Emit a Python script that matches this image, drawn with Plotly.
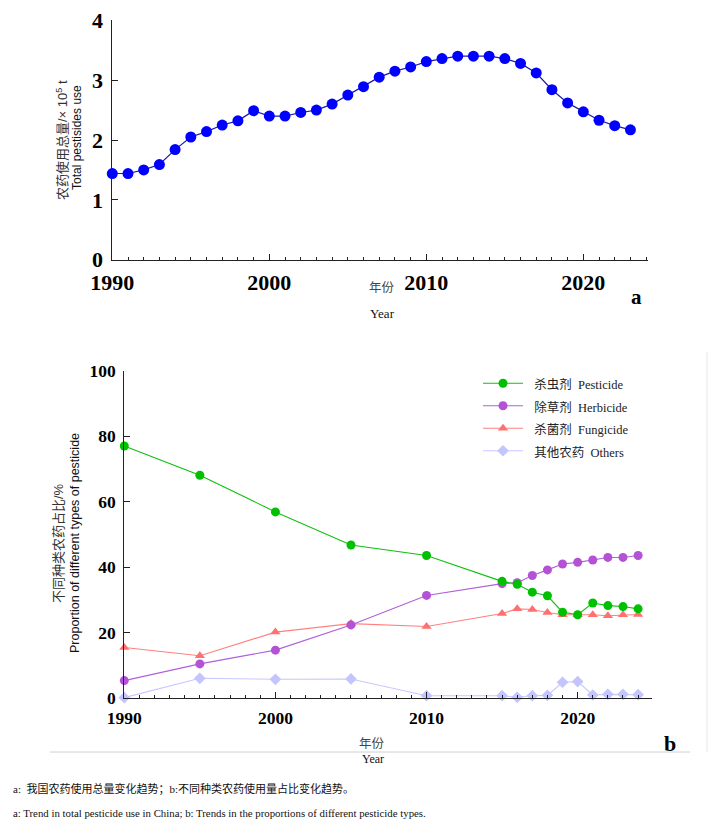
import plotly.graph_objects as go

# ---- data: panel a ----
years_a = list(range(1990, 2024))
total_use = [1.44, 1.44, 1.50, 1.59, 1.84, 2.05, 2.14, 2.25, 2.32, 2.49,
             2.40, 2.40, 2.46, 2.50, 2.60, 2.75, 2.89, 3.05, 3.15, 3.22,
             3.31, 3.36, 3.40, 3.40, 3.40, 3.36, 3.28, 3.12, 2.84, 2.62,
             2.47, 2.33, 2.24, 2.17]

# ---- data: panel b ----
years_b = [1990, 1995, 2000, 2005, 2010, 2015, 2016, 2017, 2018, 2019,
           2020, 2021, 2022, 2023, 2024]
pesticide = [77.0, 68.1, 56.9, 46.8, 43.6, 35.7, 34.8, 32.4, 31.3, 26.3,
             25.5, 29.1, 28.3, 28.0, 27.3]
herbicide = [5.4, 10.5, 14.7, 22.4, 31.4, 35.0, 35.3, 37.5, 39.2, 41.0,
             41.5, 42.2, 43.0, 43.0, 43.6]
fungicide = [15.5, 13.0, 20.2, 22.8, 21.9, 25.9, 27.3, 27.1, 26.2, 25.5,
             25.5, 25.5, 25.2, 25.5, 25.6]
others = [0.2, 6.1, 5.8, 5.9, 0.8, 0.8, 0.3, 0.8, 0.9, 4.9,
          5.1, 1.0, 1.2, 1.2, 1.1]

series_names = ["杀虫剂  Pesticide", "除草剂  Herbicide", "杀菌剂  Fungicide", "其他农药  Others"]

W, H = 726, 826
SERIF = "Liberation Serif, Times New Roman, serif"
CJK = "Liberation Serif, Noto Sans CJK SC, serif"
SANS = "Liberation Sans, Arial, Noto Sans CJK SC, sans-serif"

fig = go.Figure()

fig.add_trace(go.Scatter(
    x=years_a, y=total_use, mode="lines+markers", xaxis="x", yaxis="y",
    line=dict(color="#1c1ca8", width=1.2),
    marker=dict(color="#0000ff", size=11, symbol="circle"),
    showlegend=False, cliponaxis=False))

def add_b(y, name, mcol, lcol, sym, size, rank):
    fig.add_trace(go.Scatter(
        x=years_b, y=y, mode="lines+markers", xaxis="x2", yaxis="y2",
        name='<span style="font-size:12.5px">\u00a0\u00a0' + name + '</span>',
        line=dict(color=lcol, width=1.1),
        marker=dict(color=mcol, size=size, symbol=sym),
        legendrank=rank, cliponaxis=False))

add_b(others, series_names[3], "#c4c4ff", "#c8c8ff", "diamond", 9, 4)
add_b(fungicide, series_names[2], "#ff7070", "#ff8080", "triangle-up", 9, 3)
add_b(herbicide, series_names[1], "#b452d6", "#b060d8", "circle", 9, 2)
add_b(pesticide, series_names[0], "#00c000", "#10c010", "circle", 9, 1)

def px_x(p):
    return p / W

def px_y(p):
    return 1 - p / H

tickfont_big = dict(family=SERIF, size=22, color="black", weight="bold")
tickfont_small = dict(family=SERIF, size=17.5, color="black", weight="bold")

common = dict(showgrid=False, zeroline=False, showline=True, linecolor="#222",
              linewidth=1, ticks="inside", ticklen=6, tickcolor="#222", automargin=False)

fig.update_layout(
    width=W, height=H, margin=dict(l=0, r=0, t=0, b=0, autoexpand=False),
    paper_bgcolor="white", plot_bgcolor="rgba(0,0,0,0)",
    xaxis=dict(domain=[px_x(112.3), px_x(647.7)], range=[1990, 2024.1],
               anchor="y", dtick=10, tick0=1990,
               minor=dict(dtick=1, ticks="inside", ticklen=3, tickcolor="#222"),
               tickfont=tickfont_big, ticklabelstandoff=3, **common),
    yaxis=dict(domain=[px_y(259.7), px_y(20.3)], range=[0, 4],
               anchor="x", dtick=1,
               tickfont=tickfont_big, ticklabelstandoff=4, **common),
    xaxis2=dict(domain=[px_x(124.3), px_x(651.7)], range=[1990, 2024.9],
                anchor="y2", dtick=10, tick0=1990,
                minor=dict(dtick=1, ticks="inside", ticklen=3, tickcolor="#222"),
                tickfont=tickfont_small, ticklabelstandoff=4, **common),
    yaxis2=dict(domain=[px_y(698.3), px_y(370.7)], range=[0, 100],
                anchor="x2", dtick=20,
                tickfont=tickfont_small, ticklabelstandoff=4, **common),
    legend=dict(x=px_x(478), y=px_y(367), xanchor="left", yanchor="top",
                bgcolor="rgba(0,0,0,0)", font=dict(family=CJK, size=15, color="#222"),
                itemwidth=40, tracegroupgap=0),
)

ann = []
def text(x, y, s, size, family=SERIF, bold=False, angle=0, color="#222", xanchor="center"):
    ann.append(dict(x=px_x(x), y=px_y(y), xref="paper", yref="paper", text=s,
                    showarrow=False, textangle=angle, xanchor=xanchor, yanchor="middle",
                    font=dict(family=family, size=size, color=color,
                              weight="bold" if bold else "normal")))

# panel a labels
text(62, 140, "农药使用总量/× 10<sup>5</sup> t", 13, family=SANS, angle=-90, color="#333")
text(77, 138, "Total pestisides use", 12, family=SANS, angle=-90, color="#111")
text(382, 287, "年份", 12.5, family="Noto Sans CJK SC", color="#444")
text(383, 313, "Year", 13, family=SERIF, color="#111")
text(636.5, 297, "a", 21, bold=True, color="black")

# panel b labels
text(58, 543, "不同种类农药占比/%", 13, family=SANS, angle=-90, color="#333")
text(75, 543, "Proportion of different types of pesticide", 12.5, family=SANS, angle=-90, color="#111")
text(372, 742, "年份", 12.5, family="Noto Sans CJK SC", color="#444")
text(373, 759, "Year", 12, family=SERIF, color="#111")
text(670, 743, "b", 22, bold=True, color="black")

# captions
text(11, 788, "a:  我国农药使用总量变化趋势；b:不同种类农药使用量占比变化趋势。", 11,
     family="Liberation Serif, Noto Sans CJK SC", color="#111", xanchor="left")
text(11, 813, "a: Trend in total pesticide use in China; b: Trends in the proportions of different pesticide types.",
     10.8, family=SERIF, color="#111", xanchor="left")

fig.update_layout(annotations=ann)

fig.update_layout(shapes=[
    dict(type="line", xref="paper", yref="paper", x0=px_x(50), x1=px_x(690),
         y0=px_y(752), y1=px_y(752), line=dict(color="#d0d0d0", width=1)),
    dict(type="line", xref="paper", yref="paper", x0=px_x(707), x1=px_x(707),
         y0=px_y(352), y1=px_y(752), line=dict(color="#e6e6e6", width=1)),
])

fig.write_html("out.html")
